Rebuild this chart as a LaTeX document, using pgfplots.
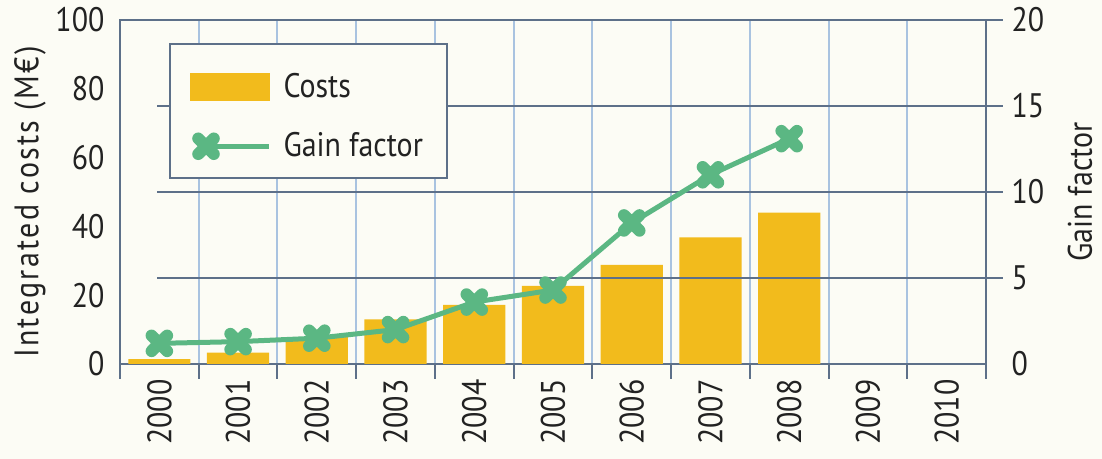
\documentclass[border=0pt]{standalone}
\usepackage{pgfplots}
\pgfplotsset{compat=1.18}
\usepackage{fontspec}
\setmainfont[FakeStretch=0.88]{PT Sans}
\usetikzlibrary{backgrounds}
\definecolor{barc}{HTML}{F2BB1C}
\definecolor{gain}{HTML}{5BB783}
\definecolor{vgrid}{HTML}{A9C3E0}
\definecolor{steel}{HTML}{5D7089}
\definecolor{txt}{HTML}{222222}
\definecolor{bg}{HTML}{FCFCF5}
\newcommand{\lblfont}{\fontsize{17}{20}\selectfont}
\begin{document}
\begin{tikzpicture}
\pgfplotsset{
  common/.style={
    scale only axis, width=433pt, height=172pt,
    xmin=-0.5, xmax=10.5,
    /pgf/number format/assume math mode=true,
    axis line style={steel, line width=1pt},
    every tick label/.append style={font=\lblfont, text=txt},
    label style={font=\lblfont, text=txt},
    tick style={steel, line width=1pt},
    tick align=outside,
  }
}
\begin{axis}[common, name=main,
  ymin=0, ymax=100,
  xtick={0,...,10},
  xticklabels={2000,2001,2002,2003,2004,2005,2006,2007,2008,2009,2010},
  xtick pos=bottom,
  major x tick style={draw=none},
  minor xtick={-0.5,0.5,...,10.5},
  minor tick length=7.5pt,
  xminorgrids,
  minor x grid style={vgrid, line width=1pt},
  xticklabel style={rotate=90, anchor=east},
  ytick={0,20,...,100},
  ytick pos=left,
  major y tick style={draw=none},
  ylabel={\addfontfeature{LetterSpace=7}Integrated costs (M€)},
  ylabel style={at={([xshift=-45pt,yshift=-5pt]axis description cs:0,0.5)}, anchor=center},
]
\addplot[ybar, fill=barc, draw=none, bar width=0.79] coordinates {
(0,1.4) (1,3.3) (2,7.8) (3,13.0) (4,17.2) (5,22.7) (6,28.8) (7,36.8) (8,44.0)};
\end{axis}
\begin{axis}[common,
  ymin=0, ymax=20,
  hide x axis,
  axis y line*=right,
  ytick={0,5,10,15,20},
  major y tick style={draw=none},
  yticklabel style={xshift=5pt},
  ylabel={Gain factor},
  ylabel style={at={([xshift=47pt]axis description cs:1,0.5)}, anchor=center},
  clip=false,
  legend style={at={(rel axis cs:0.0566,0.933)}, anchor=north west,
    draw=steel, line width=1pt, fill=bg, font=\lblfont, text=txt,
    inner xsep=10pt, inner ysep=7pt, row sep=12pt, column sep=4pt,
    nodes={inner sep=2pt}},
  legend cell align=left,
]
\draw[steel, line width=1pt] (axis cs:-0.03,5) -- (axis cs:10.716,5);
\draw[steel, line width=1pt] (axis cs:-0.03,10) -- (axis cs:10.716,10);
\draw[steel, line width=1pt] (axis cs:-0.03,15) -- (axis cs:10.716,15);
\draw[steel, line width=1pt] (axis cs:10.5,20) -- (axis cs:10.716,20);
\addlegendimage{legend image code/.code={\path (0pt,14pt); \fill[barc] (0pt,-6.5pt) rectangle (39pt,6.5pt);}}
\addlegendentry{Costs}
\addplot[gain, line width=2.5pt, mark=x, mark size=5.5pt,
  mark options={line width=6pt, line cap=round},
  legend image code/.code={\draw[mark repeat=2, mark phase=1] plot coordinates {(7.5pt,0pt) (39pt,0pt)};}]
 coordinates {(0,1.2) (1,1.3) (2,1.5) (3,2.0) (4,3.6) (5,4.3) (6,8.2) (7,11.0) (8,13.1)};
\addlegendentry{Gain factor}
\end{axis}
\pgfresetboundingbox
\path ([shift={(-60pt,-47.5pt)}]main.south west) coordinate (BL)
      ([shift={(58pt,10pt)}]main.north east) coordinate (TR);
\path (BL) rectangle (TR);
\begin{scope}[on background layer]
\fill[bg] (BL) rectangle (TR);
\end{scope}
\end{tikzpicture}
\end{document}
